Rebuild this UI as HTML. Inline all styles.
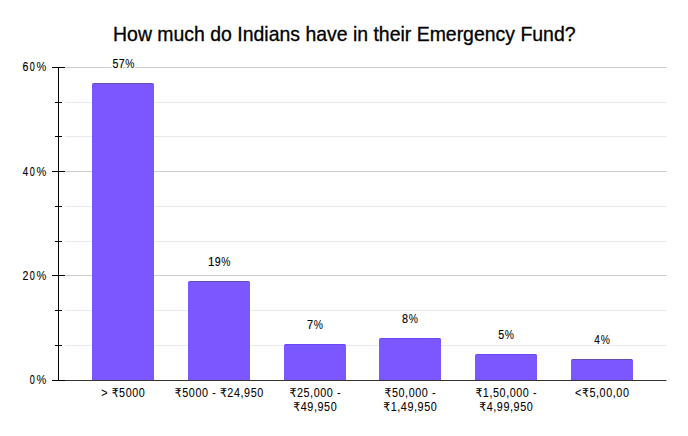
<!DOCTYPE html>
<html><head><meta charset="utf-8"><title>How much do Indians have in their Emergency Fund?</title>
<style>
html,body{margin:0;padding:0;background:#fff;}
body{width:688px;height:436px;overflow:hidden;}
svg{display:block;}
text{font-family:"Liberation Sans","DejaVu Sans",Arial,sans-serif;}
.t{font-size:19.45px;fill:#000;stroke:#000;stroke-width:0.3px;}
.l{font-size:12px;fill:#000;stroke:#000;stroke-width:0.15px;}
.x{font-size:12px;fill:#000;stroke:#000;stroke-width:0.06px;}
.p{stroke-width:0.05px;}
.halo .p{stroke-width:3px;}
.halo{fill:#fff;stroke:#fff;stroke-width:3px;stroke-linejoin:round;}
</style></head><body>
<svg width="688" height="436" viewBox="0 0 688 436">
<rect width="688" height="436" fill="#fff"/>
<text x="344.3" y="40.6" text-anchor="middle" class="t">How much do Indians have in their Emergency Fund?</text>
<line x1="65" x2="666.5" y1="345.5" y2="345.5" stroke="#e9e8ec" stroke-width="1"/>
<line x1="65" x2="666.5" y1="310.5" y2="310.5" stroke="#e9e8ec" stroke-width="1"/>
<line x1="65" x2="666.5" y1="275.5" y2="275.5" stroke="#cdcccf" stroke-width="1"/>
<line x1="65" x2="666.5" y1="241.5" y2="241.5" stroke="#e9e8ec" stroke-width="1"/>
<line x1="65" x2="666.5" y1="206.5" y2="206.5" stroke="#e9e8ec" stroke-width="1"/>
<line x1="65" x2="666.5" y1="171.5" y2="171.5" stroke="#cdcccf" stroke-width="1"/>
<line x1="65" x2="666.5" y1="136.5" y2="136.5" stroke="#e9e8ec" stroke-width="1"/>
<line x1="65" x2="666.5" y1="102.5" y2="102.5" stroke="#e9e8ec" stroke-width="1"/>
<line x1="65" x2="666.5" y1="67.5" y2="67.5" stroke="#cdcccf" stroke-width="1"/>
<path d="M92,380 V84.5 Q92,83 93.5,83 H152.5 Q154,83 154,84.5 V380 Z" fill="#7b57ff"/>
<line x1="93.5" x2="152.5" y1="83.5" y2="83.5" stroke="#5f4fae" stroke-width="1"/>
<path d="M188,380 V282.5 Q188,281 189.5,281 H248.5 Q250,281 250,282.5 V380 Z" fill="#7b57ff"/>
<line x1="189.5" x2="248.5" y1="281.5" y2="281.5" stroke="#5f4fae" stroke-width="1"/>
<path d="M284,380 V345.5 Q284,344 285.5,344 H344.5 Q346,344 346,345.5 V380 Z" fill="#7b57ff"/>
<line x1="285.5" x2="344.5" y1="344.5" y2="344.5" stroke="#6a47ff" stroke-width="1"/>
<path d="M379,380 V339.5 Q379,338 380.5,338 H439.5 Q441,338 441,339.5 V380 Z" fill="#7b57ff"/>
<line x1="380.5" x2="439.5" y1="338.5" y2="338.5" stroke="#6a47ff" stroke-width="1"/>
<path d="M475,380 V355.5 Q475,354 476.5,354 H535.5 Q537,354 537,355.5 V380 Z" fill="#7b57ff"/>
<line x1="476.5" x2="535.5" y1="354.5" y2="354.5" stroke="#6a47ff" stroke-width="1"/>
<path d="M571,380 V360.5 Q571,359 572.5,359 H631.5 Q633,359 633,360.5 V380 Z" fill="#7b57ff"/>
<line x1="572.5" x2="631.5" y1="359.5" y2="359.5" stroke="#5f4fae" stroke-width="1"/>
<line x1="58.5" x2="58.5" y1="67" y2="380.5" stroke="#000" stroke-width="1"/>
<line x1="52" x2="666.5" y1="380.5" y2="380.5" stroke="#333" stroke-width="1"/>
<line x1="52" x2="65" y1="380.5" y2="380.5" stroke="#000" stroke-width="1"/>
<line x1="55" x2="62" y1="345.5" y2="345.5" stroke="#000" stroke-width="1"/>
<line x1="55" x2="62" y1="310.5" y2="310.5" stroke="#000" stroke-width="1"/>
<line x1="52" x2="65" y1="275.5" y2="275.5" stroke="#000" stroke-width="1"/>
<line x1="55" x2="62" y1="241.5" y2="241.5" stroke="#000" stroke-width="1"/>
<line x1="55" x2="62" y1="206.5" y2="206.5" stroke="#000" stroke-width="1"/>
<line x1="52" x2="65" y1="171.5" y2="171.5" stroke="#000" stroke-width="1"/>
<line x1="55" x2="62" y1="136.5" y2="136.5" stroke="#000" stroke-width="1"/>
<line x1="55" x2="62" y1="102.5" y2="102.5" stroke="#000" stroke-width="1"/>
<line x1="52" x2="65" y1="67.5" y2="67.5" stroke="#000" stroke-width="1"/>
<text y="384.10" class="l"><tspan x="29.81" textLength="5.02" lengthAdjust="spacingAndGlyphs">0</tspan><tspan x="36.62" textLength="9.82" lengthAdjust="spacingAndGlyphs" class="p">%</tspan></text>
<text y="279.90" class="l"><tspan x="22.48" textLength="5.90" lengthAdjust="spacingAndGlyphs">2</tspan><tspan x="29.81" textLength="5.02" lengthAdjust="spacingAndGlyphs">0</tspan><tspan x="36.62" textLength="9.82" lengthAdjust="spacingAndGlyphs" class="p">%</tspan></text>
<text y="175.85" class="l"><tspan x="22.77" textLength="5.41" lengthAdjust="spacingAndGlyphs">4</tspan><tspan x="29.81" textLength="5.02" lengthAdjust="spacingAndGlyphs">0</tspan><tspan x="36.62" textLength="9.82" lengthAdjust="spacingAndGlyphs" class="p">%</tspan></text>
<text y="70.75" class="l"><tspan x="22.48" textLength="5.90" lengthAdjust="spacingAndGlyphs">6</tspan><tspan x="29.81" textLength="5.02" lengthAdjust="spacingAndGlyphs">0</tspan><tspan x="36.62" textLength="9.82" lengthAdjust="spacingAndGlyphs" class="p">%</tspan></text>
<text y="67.70" class="l halo"><tspan x="112.51" textLength="5.93" lengthAdjust="spacingAndGlyphs">5</tspan><tspan x="118.66" textLength="5.90" lengthAdjust="spacingAndGlyphs">7</tspan><tspan x="125.30" textLength="9.18" lengthAdjust="spacingAndGlyphs" class="p">%</tspan></text>
<text y="67.70" class="l"><tspan x="112.51" textLength="5.93" lengthAdjust="spacingAndGlyphs">5</tspan><tspan x="118.66" textLength="5.90" lengthAdjust="spacingAndGlyphs">7</tspan><tspan x="125.30" textLength="9.18" lengthAdjust="spacingAndGlyphs" class="p">%</tspan></text>
<text y="265.70" class="l halo"><tspan x="208.07" textLength="6.50" lengthAdjust="spacingAndGlyphs">1</tspan><tspan x="214.66" textLength="5.90" lengthAdjust="spacingAndGlyphs">9</tspan><tspan x="221.30" textLength="9.18" lengthAdjust="spacingAndGlyphs" class="p">%</tspan></text>
<text y="265.70" class="l"><tspan x="208.07" textLength="6.50" lengthAdjust="spacingAndGlyphs">1</tspan><tspan x="214.66" textLength="5.90" lengthAdjust="spacingAndGlyphs">9</tspan><tspan x="221.30" textLength="9.18" lengthAdjust="spacingAndGlyphs" class="p">%</tspan></text>
<text y="328.70" class="l halo"><tspan x="307.02" textLength="6.14" lengthAdjust="spacingAndGlyphs">7</tspan><tspan x="313.68" textLength="9.18" lengthAdjust="spacingAndGlyphs" class="p">%</tspan></text>
<text y="328.70" class="l"><tspan x="307.02" textLength="6.14" lengthAdjust="spacingAndGlyphs">7</tspan><tspan x="313.68" textLength="9.18" lengthAdjust="spacingAndGlyphs" class="p">%</tspan></text>
<text y="322.70" class="l halo"><tspan x="402.12" textLength="6.03" lengthAdjust="spacingAndGlyphs">8</tspan><tspan x="408.68" textLength="9.18" lengthAdjust="spacingAndGlyphs" class="p">%</tspan></text>
<text y="322.70" class="l"><tspan x="402.12" textLength="6.03" lengthAdjust="spacingAndGlyphs">8</tspan><tspan x="408.68" textLength="9.18" lengthAdjust="spacingAndGlyphs" class="p">%</tspan></text>
<text y="338.70" class="l halo"><tspan x="498.13" textLength="5.93" lengthAdjust="spacingAndGlyphs">5</tspan><tspan x="504.68" textLength="9.18" lengthAdjust="spacingAndGlyphs" class="p">%</tspan></text>
<text y="338.70" class="l"><tspan x="498.13" textLength="5.93" lengthAdjust="spacingAndGlyphs">5</tspan><tspan x="504.68" textLength="9.18" lengthAdjust="spacingAndGlyphs" class="p">%</tspan></text>
<text y="343.70" class="l halo"><tspan x="594.32" textLength="5.63" lengthAdjust="spacingAndGlyphs">4</tspan><tspan x="600.68" textLength="9.18" lengthAdjust="spacingAndGlyphs" class="p">%</tspan></text>
<text y="343.70" class="l"><tspan x="594.32" textLength="5.63" lengthAdjust="spacingAndGlyphs">4</tspan><tspan x="600.68" textLength="9.18" lengthAdjust="spacingAndGlyphs" class="p">%</tspan></text>
<text transform="translate(123.29,396.80) scale(0.9,1)" text-anchor="middle" letter-spacing="0.64" class="x">&gt; ₹5000</text>
<text transform="translate(219.29,396.80) scale(0.9,1)" text-anchor="middle" letter-spacing="0.64" class="x">₹5000 - ₹24,950</text>
<text transform="translate(315.29,396.80) scale(0.9,1)" text-anchor="middle" letter-spacing="0.64" class="x">₹25,000 -</text>
<text transform="translate(315.29,410.70) scale(0.9,1)" text-anchor="middle" letter-spacing="0.64" class="x">₹49,950</text>
<text transform="translate(410.29,396.80) scale(0.9,1)" text-anchor="middle" letter-spacing="0.64" class="x">₹50,000 -</text>
<text transform="translate(410.29,410.70) scale(0.9,1)" text-anchor="middle" letter-spacing="0.64" class="x">₹1,49,950</text>
<text transform="translate(506.29,396.80) scale(0.9,1)" text-anchor="middle" letter-spacing="0.64" class="x">₹1,50,000 -</text>
<text transform="translate(506.29,410.70) scale(0.9,1)" text-anchor="middle" letter-spacing="0.64" class="x">₹4,99,950</text>
<text transform="translate(602.29,396.80) scale(0.9,1)" text-anchor="middle" letter-spacing="0.64" class="x">&lt;₹5,00,00</text>
</svg>
</body></html>
